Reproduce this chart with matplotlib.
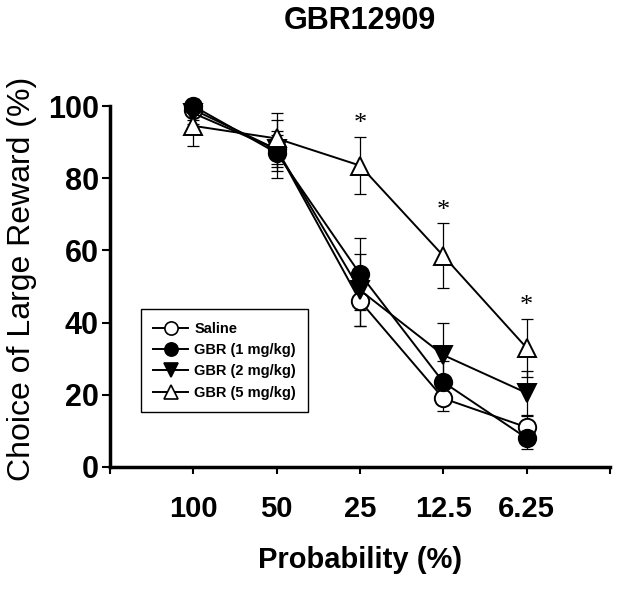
import matplotlib
matplotlib.use("Agg")
import matplotlib.pyplot as plt
from matplotlib.lines import Line2D

categories = ["100", "50", "25", "12.5", "6.25"]
saline = [99, 88, 46, 19, 11]
gbr1 = [100, 87, 53.5, 23.5, 8]
gbr2 = [98, 88, 49, 31, 20.5]
gbr5 = [94.5, 91, 83.5, 58.5, 33]
saline_err = [3, 8, 7, 3.5, 3]
gbr1_err = [2, 5, 10, 6, 3]
gbr2_err = [3, 5, 10, 9, 6]
gbr5_err = [5.5, 7, 8, 9, 8]
labels = ["Saline", "GBR (1 mg/kg)", "GBR (2 mg/kg)", "GBR (5 mg/kg)"]
sig_idx = [2, 3, 4]

plt.rcParams['font.family'] = ['Liberation Sans', 'DejaVu Sans']

fig = plt.figure(figsize=(6.21, 5.95), dpi=100)
ax = fig.add_axes([110/621, 1-467/595, 500/621, 361/595])

x = list(range(1, len(categories) + 1))
series = [
    (saline, saline_err, 'o', 'white'),
    (gbr1, gbr1_err, 'o', 'black'),
    (gbr2, gbr2_err, 'v', 'black'),
    (gbr5, gbr5_err, '^', 'white'),
]
handles = []
for i, (vals, err, mk, fc) in enumerate(series):
    ax.errorbar(x, vals, yerr=err, fmt='none', ecolor='black', elinewidth=0.9,
                capsize=4.5, capthick=0.9, zorder=2, clip_on=False)
for i, (vals, err, mk, fc) in enumerate(series):
    ax.plot(x, vals, color='black', lw=1.4, marker=mk, markersize=12.5,
            markerfacecolor=fc, markeredgecolor='black', markeredgewidth=1.4,
            zorder=3 + i, clip_on=False)
    handles.append(Line2D([], [], color='black', lw=1.4, marker=mk, markersize=9.5,
                          markerfacecolor=fc, markeredgecolor='black',
                          markeredgewidth=1.2))

for j in sig_idx:
    ax.text(x[j], gbr5[j] + gbr5_err[j] + 3.5, '*', ha='center', va='center',
            fontsize=19, family='Liberation Serif')

ax.set_xlim(0, 6)
ax.set_ylim(0, 100)
ax.set_xticks([0] + x + [6])
ax.set_xticklabels([''] + categories + [''], fontsize=21, fontweight='bold')
ax.set_yticks([0, 20, 40, 60, 80, 100])
ax.set_yticklabels(['0', '20', '40', '60', '80', '100'], fontsize=22, fontweight='bold')
ax.tick_params(axis='x', direction='out', length=5, width=1.5, pad=15)
ax.tick_params(axis='y', direction='out', length=6, width=1.5, pad=2)
for s in ['top', 'right']:
    ax.spines[s].set_visible(False)
for s in ['left', 'bottom']:
    ax.spines[s].set_linewidth(2.5)

ax.set_ylabel('Choice of Large Reward (%)', fontsize=23, fontweight='medium')
ax.yaxis.set_label_coords(-0.145, 0.52)
ax.set_xlabel('Probability (%)', fontsize=21, fontweight='bold')
ax.xaxis.set_label_coords(0.5, -0.218)

fig.text(360/621, 1-21/595, 'GBR12909', ha='center', va='center',
         fontsize=22, fontweight='bold')

leg = ax.legend(handles, labels, loc='lower left', bbox_to_anchor=(0.062, 0.152),
                frameon=True, fancybox=False, edgecolor='black', framealpha=1,
                prop={'weight': 'bold', 'size': 10.5}, handlelength=2.4,
                handletextpad=0.4, labelspacing=0.5, borderpad=0.85,
                borderaxespad=0)
leg.get_frame().set_linewidth(1.0)

fig.savefig('out.png', dpi=100)
